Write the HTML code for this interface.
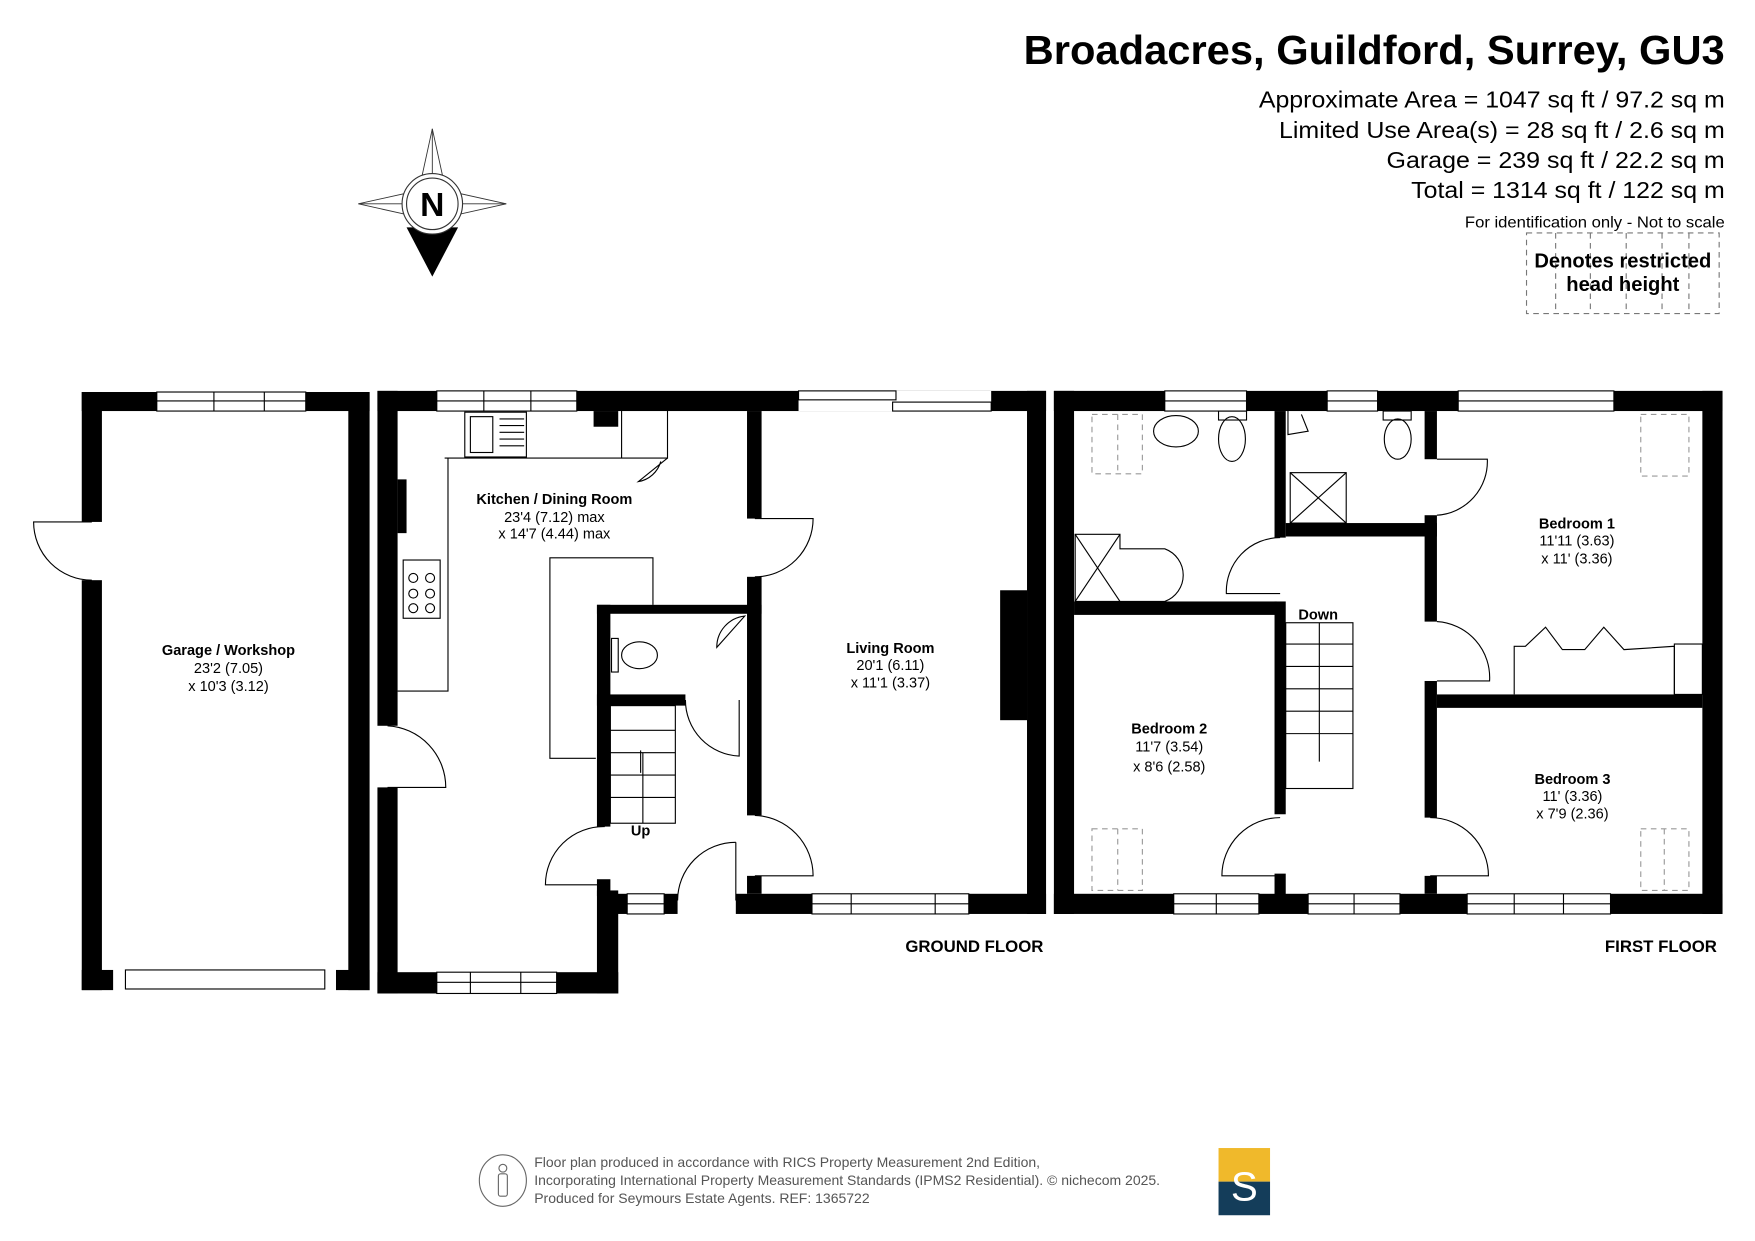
<!DOCTYPE html>
<html><head><meta charset="utf-8"><style>
html,body{margin:0;padding:0;background:#fff}
svg{display:block}
text{font-family:"Liberation Sans",sans-serif}
</style></head><body>
<svg width="1755" height="1241" viewBox="0 0 1567 1108" preserveAspectRatio="none" xmlns="http://www.w3.org/2000/svg">
<rect width="1567" height="1108" fill="#fff"/>
<!-- Header -->
<text x="1540" y="57" text-anchor="end" font-size="36" font-weight="bold" textLength="626" lengthAdjust="spacingAndGlyphs">Broadacres, Guildford, Surrey, GU3</text>
<g font-size="21" text-anchor="end">
<text x="1540" y="96" textLength="416" lengthAdjust="spacingAndGlyphs">Approximate Area = 1047 sq ft / 97.2 sq m</text>
<text x="1540" y="123" textLength="398" lengthAdjust="spacingAndGlyphs">Limited Use Area(s) = 28 sq ft / 2.6 sq m</text>
<text x="1540" y="150" textLength="302" lengthAdjust="spacingAndGlyphs">Garage = 239 sq ft / 22.2 sq m</text>
<text x="1540" y="177" textLength="280" lengthAdjust="spacingAndGlyphs">Total = 1314 sq ft / 122 sq m</text>
</g>
<text x="1540" y="203" text-anchor="end" font-size="14" textLength="232" lengthAdjust="spacingAndGlyphs">For identification only - Not to scale</text>
<g stroke="#777" stroke-width="1" stroke-dasharray="5,4" fill="none">
<rect x="1363" y="208" width="172" height="72"/>
<line x1="1389" y1="208" x2="1389" y2="280"/><line x1="1420" y1="208" x2="1420" y2="280"/><line x1="1452" y1="208" x2="1452" y2="280"/><line x1="1484" y1="208" x2="1484" y2="280"/><line x1="1508" y1="208" x2="1508" y2="280"/>
</g>
<text x="1449" y="239" text-anchor="middle" font-size="18" font-weight="bold">Denotes restricted</text>
<text x="1449" y="260" text-anchor="middle" font-size="18" font-weight="bold">head height</text>
<!-- Compass -->
<g stroke="#333" stroke-width="0.8" fill="#fff">
<polygon points="386,115 398,170 386,182 374,170"/>
<polygon points="320,182 374,170 386,182 374,194"/>
<polygon points="452,182 398,170 386,182 398,194"/>
<line x1="386" y1="115" x2="386" y2="182"/><line x1="320" y1="182" x2="452" y2="182"/>
</g>
<polygon points="363,203 409,203 386,247" fill="#000"/>
<circle cx="386" cy="182" r="27" fill="#fff" stroke="#333" stroke-width="1"/>
<circle cx="386" cy="182" r="23" fill="#fff" stroke="#333" stroke-width="1"/>
<text x="386" y="193" text-anchor="middle" font-size="30" font-weight="bold">N</text>
<!-- Walls -->
<g fill="#000">
<rect x="73" y="350" width="257" height="17"/>
<rect x="73" y="350" width="18" height="116"/><rect x="73" y="518" width="18" height="366"/>
<rect x="311" y="350" width="19" height="534"/>
<rect x="73" y="866" width="28" height="18"/><rect x="300" y="866" width="30" height="18"/>
<rect x="337" y="349" width="597" height="18"/>
<rect x="337" y="349" width="18" height="299"/><rect x="337" y="703" width="18" height="184"/>
<rect x="337" y="868" width="215" height="19"/>
<rect x="533" y="795" width="19" height="92"/>
<rect x="917" y="349" width="17" height="467"/>
<rect x="893" y="527" width="24" height="116"/>
<rect x="657" y="798" width="277" height="18"/>
<rect x="667" y="367" width="13" height="96"/>
<rect x="667" y="515" width="13" height="213"/>
<rect x="667" y="782" width="13" height="16"/>
<rect x="533" y="540" width="147" height="8"/>
<rect x="533" y="540" width="12" height="198"/>
<rect x="533" y="785" width="12" height="15"/>
<rect x="533" y="620" width="79" height="10"/>
<rect x="355" y="428" width="8" height="48"/>
<rect x="530" y="367" width="22" height="14"/>
<rect x="545" y="798" width="15" height="18"/>
<rect x="593" y="798" width="12" height="18"/>
<rect x="941" y="349" width="597" height="18"/>
<rect x="941" y="349" width="18" height="467"/>
<rect x="1520" y="349" width="18" height="467"/>
<rect x="941" y="798" width="597" height="18"/>
<rect x="959" y="537" width="181" height="12"/>
<rect x="1138" y="367" width="10" height="113"/>
<rect x="1138" y="537" width="10" height="190"/>
<rect x="1138" y="780" width="10" height="20"/>
<rect x="1148" y="467" width="135" height="12"/>
<rect x="1272" y="367" width="11" height="43"/>
<rect x="1272" y="460" width="11" height="95"/>
<rect x="1272" y="608" width="11" height="122"/>
<rect x="1272" y="782" width="11" height="16"/>
<rect x="1283" y="620" width="237" height="12"/>
</g>
<!-- Windows -->
<g fill="#fff" stroke="#000" stroke-width="1">
<rect x="140" y="350" width="133" height="17"/><line x1="140" y1="358" x2="273" y2="358"/><line x1="191" y1="350" x2="191" y2="367"/><line x1="236" y1="350" x2="236" y2="367"/>
<rect x="112" y="866" width="178" height="17"/>
<rect x="390" y="349" width="125" height="18"/><line x1="390" y1="358" x2="515" y2="358"/><line x1="432" y1="349" x2="432" y2="367"/><line x1="474" y1="349" x2="474" y2="367"/>
<rect x="713" y="349" width="172" height="18" stroke="none"/><rect x="713" y="349" width="87" height="8"/><rect x="797" y="359" width="88" height="8"/>
<rect x="390" y="868" width="107" height="19"/><line x1="390" y1="877" x2="497" y2="877"/><line x1="420" y1="868" x2="420" y2="887"/><line x1="465" y1="868" x2="465" y2="887"/>
<rect x="560" y="798" width="33" height="18"/><line x1="560" y1="807" x2="593" y2="807"/>
<rect x="725" y="798" width="140" height="18"/><line x1="725" y1="807" x2="865" y2="807"/><line x1="760" y1="798" x2="760" y2="816"/><line x1="835" y1="798" x2="835" y2="816"/>
<rect x="1040" y="349" width="73" height="18"/><line x1="1040" y1="358" x2="1113" y2="358"/>
<rect x="1185" y="349" width="45" height="18"/><line x1="1185" y1="358" x2="1230" y2="358"/>
<rect x="1302" y="349" width="139" height="18"/><line x1="1302" y1="358" x2="1441" y2="358"/>
<rect x="1048" y="798" width="76" height="18"/><line x1="1048" y1="807" x2="1124" y2="807"/><line x1="1086" y1="798" x2="1086" y2="816"/>
<rect x="1168" y="798" width="82" height="18"/><line x1="1168" y1="807" x2="1250" y2="807"/><line x1="1209" y1="798" x2="1209" y2="816"/>
<rect x="1310" y="798" width="128" height="18"/><line x1="1310" y1="807" x2="1438" y2="807"/><line x1="1352" y1="798" x2="1352" y2="816"/><line x1="1396" y1="798" x2="1396" y2="816"/>
</g>
<!-- Doors & fittings -->
<g fill="none" stroke="#000" stroke-width="1">
<path d="M82,466 H30 A52,52 0 0 0 82,518"/>
<path d="M346,648 A55,55 0 0 1 398,703 H346"/>
<path d="M674,463 H726 A52,52 0 0 1 674,515"/>
<path d="M674,728 A54,54 0 0 1 726,782 H674"/>
<path d="M540,738 A52,52 0 0 0 487,790 H540"/>
<path d="M657,752 A52,52 0 0 0 605,804"/><line x1="657" y1="752" x2="657" y2="804"/>
<path d="M612,625 A50,50 0 0 0 660,675 V625"/>
<rect x="415" y="368" width="55" height="40"/><rect x="420" y="372" width="20" height="32"/>
<line x1="446" y1="374" x2="468" y2="374"/><line x1="446" y1="380" x2="468" y2="380"/><line x1="446" y1="386" x2="468" y2="386"/><line x1="446" y1="392" x2="468" y2="392"/><line x1="446" y1="398" x2="468" y2="398"/>
<path d="M397,409 H555 V367 M555,409 H596 V367"/>
<path d="M596,409 L570,430 A25,25 0 0 0 590,412"/>
<polyline points="400,409 400,617 355,617"/>
<rect x="360" y="500" width="33" height="52"/>
<circle cx="369" cy="516" r="4"/><circle cx="384" cy="516" r="4"/><circle cx="369" cy="530" r="4"/><circle cx="384" cy="530" r="4"/><circle cx="369" cy="543" r="4"/><circle cx="384" cy="543" r="4"/>
<polyline points="532,677 491,677 491,498 583,498 583,540"/>
<ellipse cx="571" cy="585" rx="16" ry="12"/><rect x="546" y="570" width="6" height="30"/>
<path d="M665,550 A28,28 0 0 0 640,578 Z"/>
<rect x="545" y="630" width="58" height="105"/>
<line x1="545" y1="652" x2="603" y2="652"/><line x1="545" y1="672" x2="603" y2="672"/><line x1="545" y1="692" x2="603" y2="692"/><line x1="545" y1="712" x2="603" y2="712"/><line x1="574" y1="672" x2="574" y2="735"/><line x1="572" y1="690" x2="572" y2="670"/>
<ellipse cx="1050" cy="385" rx="20" ry="14"/><ellipse cx="1100" cy="392" rx="12" ry="20"/><rect x="1088" y="367" width="25" height="8"/>
<ellipse cx="1248" cy="392" rx="12" ry="18"/><rect x="1235" y="367" width="25" height="8"/>
<rect x="1152" y="422" width="50" height="45"/><line x1="1152" y1="422" x2="1202" y2="467"/><line x1="1202" y1="422" x2="1152" y2="467"/>
<path d="M960,477 H1000 V490 H1040 A25,25 0 0 1 1040,537 H960 Z"/><line x1="960" y1="477" x2="1000" y2="537"/><line x1="960" y1="537" x2="1000" y2="477"/>
<path d="M1143,480 A48,48 0 0 0 1095,530 H1143"/>
<path d="M1283,410 H1328 A48,48 0 0 1 1283,460"/>
<path d="M1283,555 A50,50 0 0 1 1330,608 H1283"/>
<path d="M1143,730 A52,52 0 0 0 1091,782 H1143"/>
<path d="M1277,730 A52,52 0 0 1 1329,782 H1277"/>
<rect x="1148" y="556" width="60" height="148"/>
<line x1="1148" y1="575" x2="1208" y2="575"/><line x1="1148" y1="595" x2="1208" y2="595"/><line x1="1148" y1="615" x2="1208" y2="615"/><line x1="1148" y1="635" x2="1208" y2="635"/><line x1="1148" y1="655" x2="1208" y2="655"/><line x1="1178" y1="556" x2="1178" y2="680"/>
<polyline points="1352,620 1352,577 1362,577 1380,560 1395,580 1415,580 1432,560 1450,580 1495,577 1495,620"/>
<rect x="1495" y="575" width="25" height="45"/>
<polyline points="1150,367 1150,388 1168,385 1162,370"/>
</g>
<g fill="none" stroke="#999" stroke-width="1" stroke-dasharray="5,4">
<rect x="975" y="370" width="45" height="53"/><line x1="998" y1="370" x2="998" y2="423"/>
<rect x="1465" y="370" width="43" height="55"/>
<rect x="975" y="740" width="45" height="55"/><line x1="998" y1="740" x2="998" y2="795"/>
<rect x="1465" y="740" width="43" height="55"/><line x1="1486" y1="740" x2="1486" y2="795"/>
</g>
<!-- Labels -->
<g font-size="13" text-anchor="middle">
<text x="495" y="450" font-weight="bold">Kitchen / Dining Room</text>
<text x="495" y="466">23'4 (7.12) max</text>
<text x="495" y="481">x 14'7 (4.44) max</text>
<text x="204" y="585" font-weight="bold">Garage / Workshop</text>
<text x="204" y="601">23'2 (7.05)</text>
<text x="204" y="617">x 10'3 (3.12)</text>
<text x="795" y="583" font-weight="bold">Living Room</text>
<text x="795" y="598">20'1 (6.11)</text>
<text x="795" y="614">x 11'1 (3.37)</text>
<text x="572" y="746" font-weight="bold">Up</text>
<text x="1408" y="472" font-weight="bold">Bedroom 1</text>
<text x="1408" y="487">11'11 (3.63)</text>
<text x="1408" y="503">x 11' (3.36)</text>
<text x="1044" y="655" font-weight="bold">Bedroom 2</text>
<text x="1044" y="671">11'7 (3.54)</text>
<text x="1044" y="689">x 8'6 (2.58)</text>
<text x="1177" y="553" font-weight="bold">Down</text>
<text x="1404" y="700" font-weight="bold">Bedroom 3</text>
<text x="1404" y="715">11' (3.36)</text>
<text x="1404" y="731">x 7'9 (2.36)</text>
</g>
<text x="870" y="850" text-anchor="middle" font-size="15" font-weight="bold">GROUND FLOOR</text>
<text x="1483" y="850" text-anchor="middle" font-size="15" font-weight="bold">FIRST FLOOR</text>
<!-- Footer -->
<ellipse cx="449" cy="1054" rx="21" ry="23" fill="none" stroke="#666"/>
<circle cx="449" cy="1043" r="3.5" fill="none" stroke="#666"/><rect x="445" y="1048" width="8" height="20" rx="2" fill="none" stroke="#666"/>
<g font-size="12.5" fill="#555">
<text x="477" y="1042">Floor plan produced in accordance with RICS Property Measurement 2nd Edition,</text>
<text x="477" y="1058">Incorporating International Property Measurement Standards (IPMS2 Residential).   © nichecom 2025.</text>
<text x="477" y="1074">Produced for Seymours Estate Agents.   REF: 1365722</text>
</g>
<rect x="1088" y="1025" width="46" height="30" fill="#f0b92b"/>
<rect x="1088" y="1055" width="46" height="30" fill="#143d5a"/>
<text x="1111" y="1072" text-anchor="middle" font-size="36" fill="#fff" font-family="Liberation Serif,serif">S</text>
</svg>
</body></html>
